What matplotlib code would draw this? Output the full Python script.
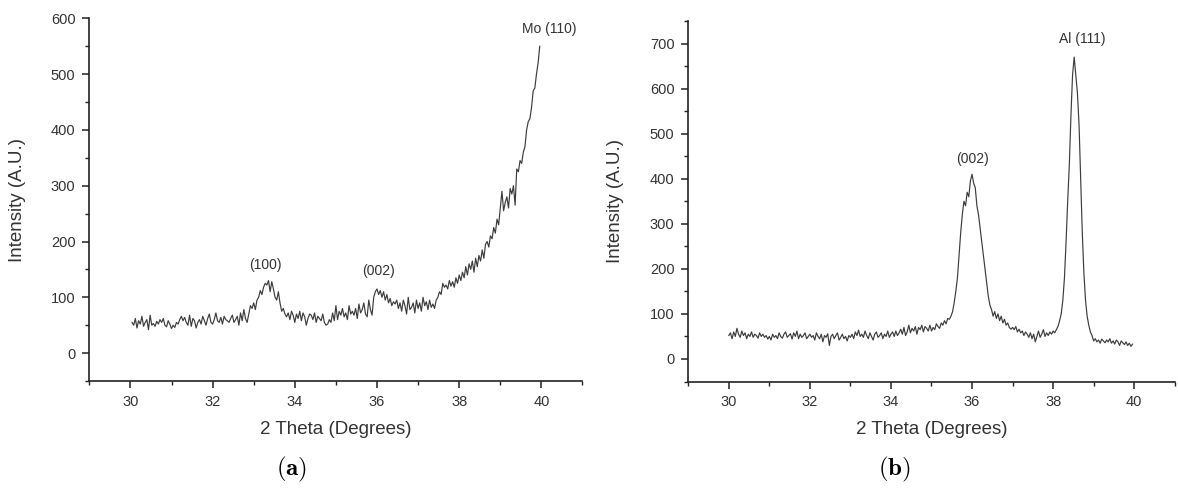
import numpy as np
import matplotlib
matplotlib.use("Agg")
import matplotlib.pyplot as plt
from matplotlib.ticker import MultipleLocator

plt.rcParams['font.family'] = ['Liberation Sans', 'DejaVu Sans']
plt.rcParams['mathtext.fontset'] = 'cm'

# ---------------- data ----------------
# (a) 2-theta grid 30.04 .. 39.96 step 0.04
theta_a_start, theta_step = 30.04, 0.04
intensity_a = [
    55, 50, 62, 45, 58, 52, 66, 48, 55, 60, 42, 68, 50, 53, 48, 57, 52, 60, 55, 62, 50, 47, 58, 52, 44,
    50, 46, 55, 52, 60, 66, 58, 64, 55, 50, 68, 48, 62, 58, 45, 55, 60, 52, 66, 58, 50, 62, 70, 55, 52,
    60, 72, 58, 55, 64, 52, 66, 60, 58, 55, 62, 68, 55, 60, 66, 50, 72, 58, 78, 62, 55, 70, 85, 80, 90,
    78, 95, 100, 112, 105, 118, 125, 122, 130, 110, 128, 115, 100, 95, 110, 90, 75, 80, 70, 65, 72, 60, 75, 68, 55,
    70, 62, 75, 58, 72, 65, 50, 62, 70, 68, 60, 72, 55, 66, 62, 58, 70, 55, 50, 52, 60, 55, 72, 58, 85,
    60, 75, 68, 80, 65, 72, 60, 85, 70, 75, 68, 80, 62, 88, 72, 78, 90, 70, 65, 95, 78, 68, 100, 110, 115,
    105, 112, 100, 110, 95, 105, 90, 98, 85, 92, 88, 95, 80, 90, 75, 95, 85, 70, 100, 78, 82, 90, 72, 95, 80,
    90, 75, 100, 85, 92, 78, 95, 82, 88, 80, 95, 100, 110, 105, 125, 118, 122, 115, 130, 120, 128, 118, 135, 125, 140,
    130, 145, 135, 155, 140, 160, 150, 165, 145, 170, 155, 175, 165, 185, 170, 195, 200, 190, 210, 205, 225, 215, 240, 230, 260,
    290, 255, 270, 280, 260, 295, 285, 300, 265, 330, 325, 345, 340, 360, 370, 400, 415, 420, 440, 470, 475, 500, 520, 550,
]

# (b) 2-theta grid 30.00 .. 39.96 step 0.04
theta_b_start = 30.00
intensity_b = [
    52, 58, 45, 60, 50, 68, 55, 48, 62, 52, 58, 45, 55, 50, 60, 48, 55, 52, 46, 58, 50, 55, 48, 52, 44,
    50, 42, 55, 48, 52, 45, 58, 50, 46, 55, 60, 48, 52, 56, 44, 58, 50, 62, 45, 55, 48, 52, 58, 45, 50,
    55, 48, 52, 42, 58, 50, 45, 55, 38, 52, 48, 56, 30, 50, 55, 45, 52, 58, 42, 48, 55, 45, 50, 40, 52,
    48, 55, 45, 60, 52, 64, 50, 55, 48, 62, 52, 45, 58, 50, 42, 55, 60, 48, 52, 58, 45, 55, 50, 62, 48,
    55, 60, 50, 62, 52, 58, 66, 55, 70, 52, 60, 75, 58, 68, 62, 72, 55, 70, 65, 75, 60, 72, 68, 62, 75,
    62, 70, 65, 78, 72, 68, 80, 75, 85, 78, 90, 88, 95, 105, 125, 150, 180, 230, 280, 320, 350, 340, 370, 360, 395,
    410, 390, 380, 340, 320, 290, 260, 230, 200, 170, 140, 120, 110, 95, 105, 90, 100, 85, 95, 80, 88, 75, 80, 70, 66,
    70, 65, 72, 60, 66, 58, 62, 52, 60, 55, 48, 58, 45, 55, 38, 50, 62, 48, 55, 65, 50, 58, 52, 60, 55,
    62, 58, 65, 72, 85, 100, 130, 180, 260, 350, 430, 540, 630, 670, 630, 590, 520, 400, 280, 190, 130, 95, 75, 60, 52,
    40, 45, 38, 42, 35, 44, 40, 36, 42, 38, 45, 35, 40, 33, 42, 38, 30, 40, 36, 32, 38, 30, 35, 28, 33,
]

labels_a = ["(100)", "(002)", "Mo (110)"]
label_pos_a = [(33.29, 158), (36.03, 148), (40.18, 580)]
labels_b = ["(002)", "Al (111)"]
label_pos_b = [(36.01, 443), (38.71, 709)]

x_label = "2 Theta (Degrees)"
y_label = "Intensity (A.U.)"

theta_a = theta_a_start + theta_step * np.arange(len(intensity_a))
theta_b = theta_b_start + theta_step * np.arange(len(intensity_b))

# ---------------- figure ----------------
W, H = 1178, 491
fig = plt.figure(figsize=(W / 100, H / 100), dpi=100)

def px_axes(x0, y0, x1, y1):
    return fig.add_axes([x0 / W, 1 - y1 / H, (x1 - x0) / W, (y1 - y0) / H])

line_color = '#3c3c3c'
text_color = '#333333'

def style(ax, ylim, ylab_x, xlab_y):
    ax.set_xlim(29, 41)
    ax.set_ylim(*ylim)
    ax.spines['top'].set_visible(False)
    ax.spines['right'].set_visible(False)
    for s in ('left', 'bottom'):
        ax.spines[s].set_color('#222222')
        ax.spines[s].set_linewidth(1.2)
    ax.xaxis.set_major_locator(MultipleLocator(2))
    ax.xaxis.set_minor_locator(MultipleLocator(1))
    ax.yaxis.set_major_locator(MultipleLocator(100))
    ax.yaxis.set_minor_locator(MultipleLocator(50))
    ax.tick_params(which='major', direction='out', length=5, width=1.1,
                   color='#222222', labelsize=10.5, labelcolor=text_color, pad=5)
    ax.tick_params(which='minor', direction='out', length=3, width=1.0, color='#222222')
    ax.set_xlabel(x_label, fontsize=13.5, color=text_color, va='center')
    ax.set_ylabel(y_label, fontsize=13.5, color=text_color, va='center')
    ax.xaxis.set_label_coords(0.5, xlab_y)
    ax.yaxis.set_label_coords(ylab_x, 0.5)

ax1 = px_axes(89.3, 18.3, 582.5, 381)
ax1.plot(theta_a, intensity_a, color=line_color, lw=0.85)
style(ax1, (-50, 600), (18 - 89.3) / 493.2, -48 / 362.7)
ax1.set_yticks([0, 100, 200, 300, 400, 500, 600])
for t, (x, y) in zip(labels_a, label_pos_a):
    ax1.text(x, y, t, ha='center', va='center', fontsize=10, color=text_color)

ax2 = px_axes(688.3, 21, 1174.7, 381.5)
ax2.plot(theta_b, intensity_b, color=line_color, lw=0.85)
style(ax2, (-50, 750), (616 - 688.3) / 486.4, -48 / 360.5)
ax2.set_yticks([0, 100, 200, 300, 400, 500, 600, 700])
for t, (x, y) in zip(labels_b, label_pos_b):
    ax2.text(x, y, t, ha='center', va='center', fontsize=10, color=text_color)

fig.text(292 / W, 1 - 469 / H, r'$\mathbf{(a)}$', ha='center', va='center', fontsize=18)
fig.text(894 / W, 1 - 469 / H, r'$\mathbf{(b)}$', ha='center', va='center', fontsize=18)

fig.savefig('out.png', dpi=100)
